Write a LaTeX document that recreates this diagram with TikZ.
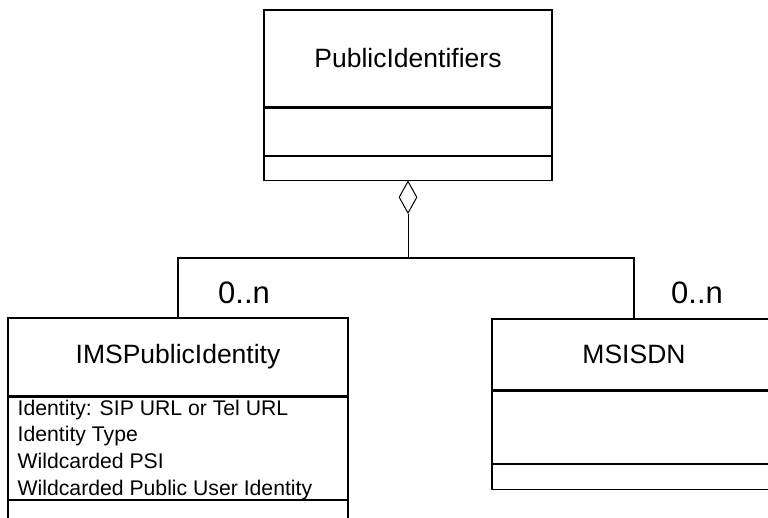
\documentclass[tikz,border=0pt]{standalone}
\usepackage{fontspec}
\setmainfont{Liberation Sans}
\usetikzlibrary{positioning,shapes.geometric}

\begin{document}
\begin{tikzpicture}[x=1pt,y=-1pt,
        compart/.style={draw=black, line width=1.1pt, inner sep=0pt, fill=white},
        classname/.style={compart, font=\fontsize{26.5}{30}\selectfont},
        attrlist/.style={inner sep=0pt, align=left, font=\fontsize{21.2}{26.8}\selectfont},
        mult/.style={inner sep=0pt, font=\fontsize{31}{34}\selectfont},
        assoc/.style={draw=black, line width=2.2pt},
        aggr/.style={draw=black, line width=1pt}]
        \clip (0,0) rectangle (768,518); % page is 768 x 518, the two lower boxes run off it

        % the whole (top class)
        \node[classname, minimum width=288, minimum height=97] (pubname) at (408,58.5) {PublicIdentifiers};
        \node[compart, minimum width=288, minimum height=47, below=0pt of pubname] (pubattr) {};
        \node[compart, minimum width=288, minimum height=24, below=0pt of pubattr] (pubops) {};

        % left part
        \node[classname, minimum width=340, minimum height=78] (imsname) at (178,357) {IMSPublicIdentity};
        \node[compart, minimum width=340, minimum height=102, below=0pt of imsname] (imsattr) {};
        \node[compart, minimum width=340, minimum height=40, below=0pt of imsattr] (imsops) {};
        \node[attrlist, anchor=north west] (imslist) at ([xshift=10pt,yshift=-3pt]imsattr.north west)
            {Identity: SIP URL or Tel URL\\Identity Type\\Wildcarded PSI\\Wildcarded Public User Identity};

        % right part
        \node[classname, minimum width=284, minimum height=71] (msname) at (634,354.5) {MSISDN};
        \node[compart, minimum width=284, minimum height=72, below=0pt of msname] (msattr) {};
        \node[compart, minimum width=284, minimum height=25, below=0pt of msattr] (msops) {};

        % aggregation diamond and the tree below it
        \node[draw=black, line width=1pt, diamond, inner sep=0pt, minimum width=18, minimum height=32,
              anchor=north] (agg) at (pubops.south) {};
        \coordinate (bar) at (agg.south |- 0,258);
        \draw[aggr] (agg.south) -- (bar);
        \draw[assoc] (imsname.north) |- (bar) -| (msname.north);

        \node[mult] (imsmult) at (244,293) {0..n};
        \node[mult] (msmult) at (697,293) {0..n};
\end{tikzpicture}
\end{document}
